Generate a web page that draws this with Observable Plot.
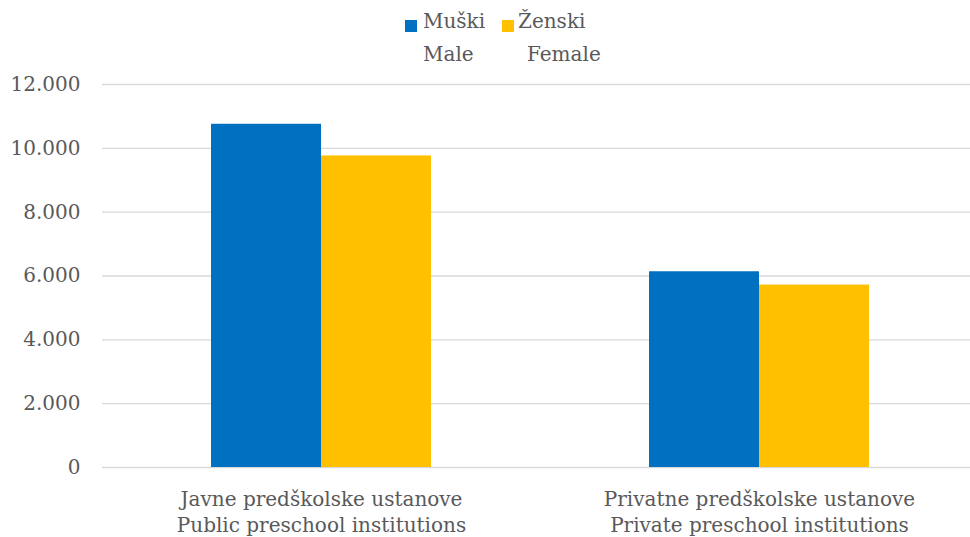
<!DOCTYPE html>
<html>
<head>
<meta charset="utf-8">
<script src="https://cdn.jsdelivr.net/npm/d3@7"></script>
<script src="https://cdn.jsdelivr.net/npm/@observablehq/plot@0.6"></script>
<style>
  html, body { margin: 0; padding: 0; background: #fff; overflow: hidden; }
  #wrap { position: relative; width: 970px; height: 537px; }
  #legend { position: absolute; left: 0; top: 0; width: 970px; height: 70px; font-family: "DejaVu Serif", serif; font-size: 20px; color: #595959; }
  .sw { position: absolute; width: 12px; height: 12px; }
  .lbl { position: absolute; white-space: pre; line-height: 29px; }
</style>
</head>
<body>
<div id="wrap"><div id="chart"></div><div id="legend"></div></div>
<script>
const categoriesLocal = ["Javne predškolske ustanove", "Privatne predškolske ustanove"];
const categoriesEn = ["Public preschool institutions", "Private preschool institutions"];
const seriesLocal = ["Muški", "Ženski"];
const seriesEn = ["Male", "Female"];
const maleValues = [10754, 6133];
const femaleValues = [9762, 5716];
const yTicks = [0, 2000, 4000, 6000, 8000, 10000, 12000];
const colors = ["#0070C0", "#FFC000"];

const seriesValues = [maleValues, femaleValues];
const data = [];
categoriesLocal.forEach((c, i) => {
  seriesLocal.forEach((s, j) => {
    data.push({category: c, series: s, value: seriesValues[j][i]});
  });
});
const enOf = Object.fromEntries(categoriesLocal.map((c, i) => [c, categoriesEn[i]]));
const fmt = d => d3.format(",")(d).replace(/,/g, ".");

const chart = Plot.plot({
  width: 970,
  height: 537,
  marginTop: 84,
  marginBottom: 70,
  marginLeft: 102,
  marginRight: 0,
  style: {fontFamily: "DejaVu Serif, serif", fontSize: "20px", color: "#595959", background: "transparent"},
  fx: {domain: categoriesLocal, range: [102, 978], padding: 0, label: null, axis: null},
  x: {domain: seriesLocal, paddingInner: 0, paddingOuter: 0.99, axis: null},
  y: {domain: [0, 12000], label: null},
  color: {domain: seriesLocal, range: colors},
  marks: [
    Plot.ruleY(yTicks, {stroke: "#d9d9d9", strokeWidth: 1.3}),
    Plot.barY(data, {fx: "category", x: "series", y: "value", fill: "series"}),
    Plot.axisY({ticks: yTicks, tickFormat: fmt, tickSize: 0, tickPadding: 22, fontSize: 20, fill: "#595959"}),
    Plot.axisFx({anchor: "bottom", tickSize: 0, tickPadding: 20, fontSize: 20, lineHeight: 1.3, fill: "#595959",
      tickFormat: d => d + "\n" + enOf[d]})
  ]
});
document.getElementById("chart").appendChild(chart);

// legend
const legend = d3.select("#legend");
const swX = [405, 502];
const txtX = [423, 518];
const enX = [423, 527];
seriesLocal.forEach((s, j) => {
  legend.append("div").attr("class", "sw").style("left", swX[j] + "px").style("top", "20px").style("background", colors[j]);
  legend.append("div").attr("class", "lbl").style("left", txtX[j] + "px").style("top", "7px").text(s);
  legend.append("div").attr("class", "lbl").style("left", enX[j] + "px").style("top", "40px").text(seriesEn[j]);
});
</script>
</body>
</html>
